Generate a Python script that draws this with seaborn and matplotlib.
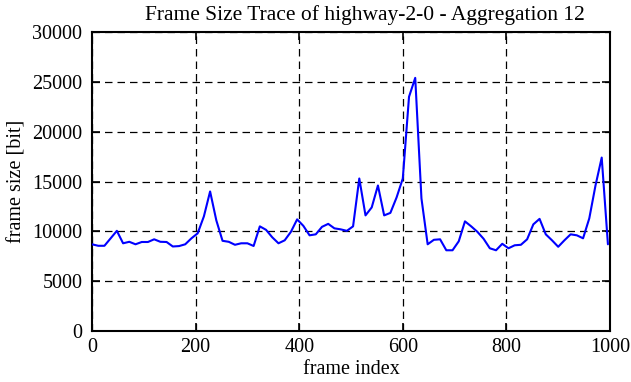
import matplotlib
matplotlib.use("Agg")
import matplotlib.pyplot as plt
import seaborn as sns
import pandas as pd

frame_step = 12
frame_size = [
    8700, 8550, 8550, 9300, 10050, 8800, 8950, 8700, 8930, 8930,
    9200, 8950, 8930, 8480, 8520, 8700, 9300, 9800, 11500, 14000,
    11100, 9050, 8950, 8650, 8800, 8800, 8530, 10500, 10150, 9400,
    8800, 9100, 9950, 11200, 10550, 9600, 9700, 10450, 10750, 10300,
    10200, 10050, 10500, 15300, 11600, 12400, 14600, 11600, 11850, 13400,
    15300, 23500, 25400, 13300, 8700, 9150, 9200, 8100, 8100, 9000,
    11000, 10500, 9950, 9250, 8300, 8100, 8750, 8300, 8600, 8650,
    9200, 10700, 11250, 9700, 9100, 8450, 9100, 9700, 9600, 9300,
    11300, 14600, 17400, 8700,
]
frame_index = [i * frame_step for i in range(len(frame_size))]

x_ticks = [0, 200, 400, 600, 800, 1000]
y_ticks = [0, 5000, 10000, 15000, 20000, 25000, 30000]

title = "Frame Size Trace of highway-2-0 - Aggregation 12"
x_label = "frame index"
y_label = "frame size [bit]"

df = pd.DataFrame({"frame index": frame_index, "frame size": frame_size})

sns.set_theme(style="white")
plt.rcParams["font.family"] = ["Liberation Serif", "DejaVu Serif"]
plt.rcParams["font.size"] = 14

fig = plt.figure(figsize=(6.31, 3.82), dpi=100)
ax = fig.add_axes([92 / 631, 1 - 331 / 382, (610 - 92) / 631, (331 - 32) / 382])

sns.lineplot(data=df, x="frame index", y="frame size", ax=ax,
             color="#0000ff", linewidth=1.5, zorder=3)

ax.set_xlim(0, 1000)
ax.set_ylim(0, 30000)
ax.set_xticks(x_ticks)
ax.set_yticks(y_ticks)
ax.set_xticklabels([str(t) for t in x_ticks], fontsize=14.5)
ax.set_yticklabels([str(t) for t in y_ticks], fontsize=14.5)
ax.tick_params(direction="in", length=6, width=1.2, top=True, right=True,
               bottom=True, left=True, colors="black", labelcolor="black", pad=7)
ax.tick_params(axis="x", pad=5)
ax.grid(True, color="black", linestyle=(0, (6, 4)), linewidth=0.9)
for s in ax.spines.values():
    s.set_color("black")
    s.set_linewidth(1.5)
    s.set_visible(True)

ax.set_title(title, fontsize=15.5, color="black", pad=9, x=0.527)
ax.set_xlabel(x_label, fontsize=14.5, color="black", labelpad=2)
ax.set_ylabel(y_label, fontsize=14.5, color="black", labelpad=4)

fig.savefig("out.png", dpi=100, facecolor="white")
